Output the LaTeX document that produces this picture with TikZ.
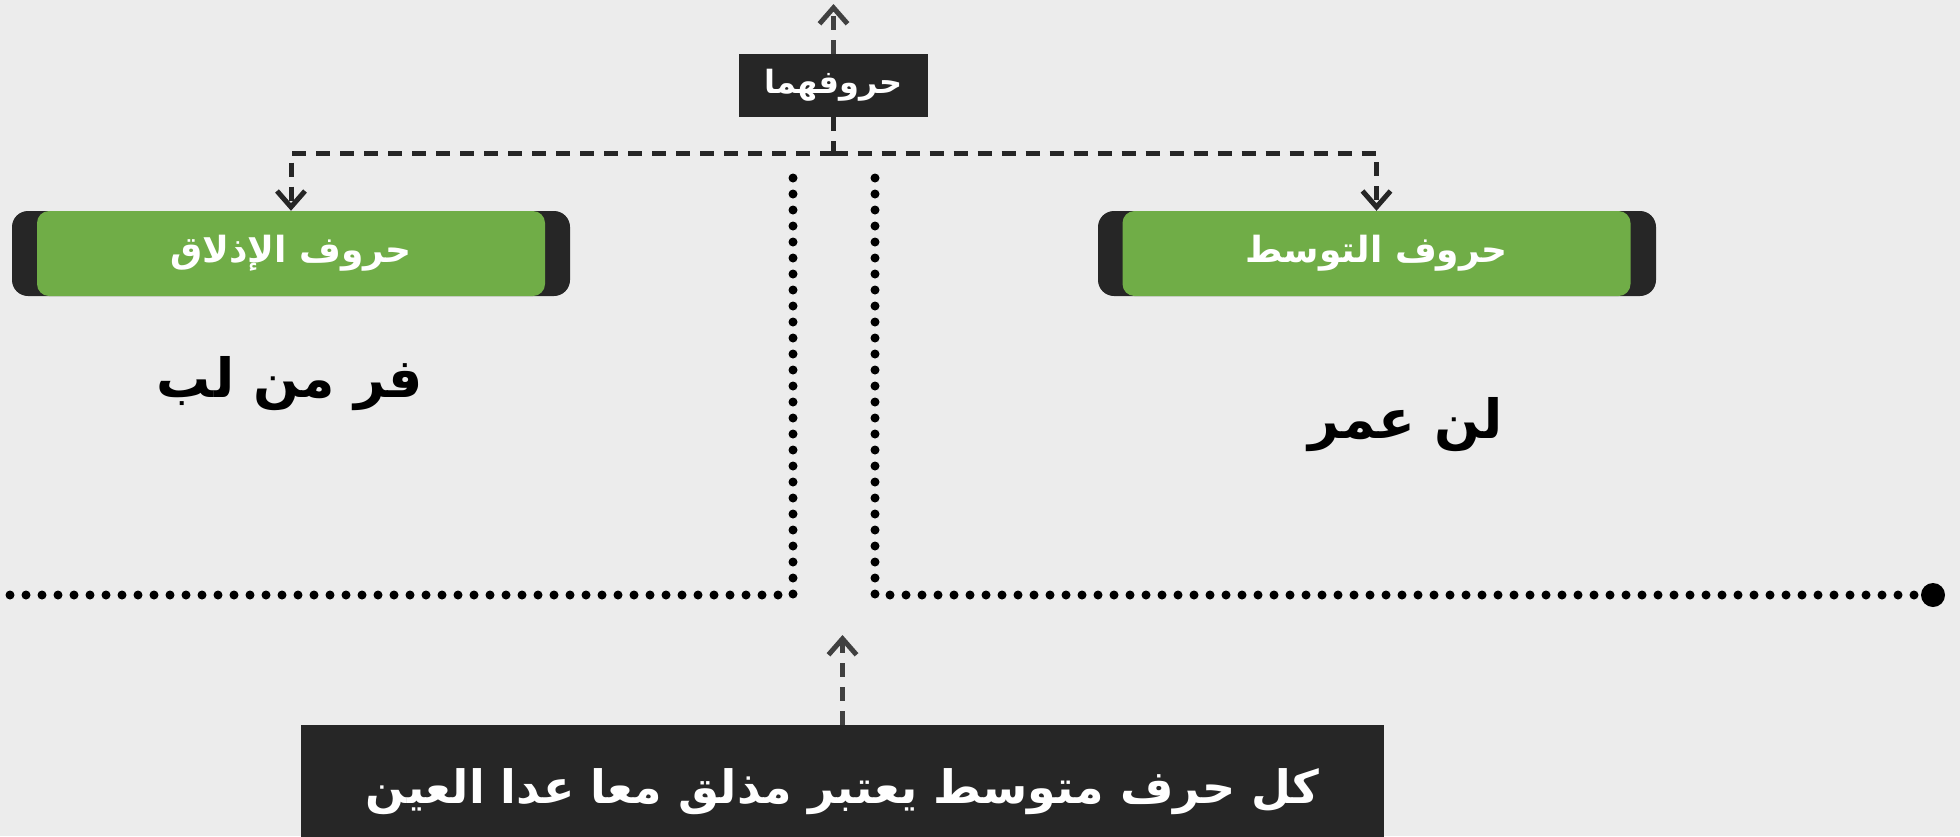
\documentclass[tikz,border=0pt]{standalone}
\usepackage{fontspec}
\newfontfamily\arabicfont[Script=Arabic]{DejaVu Sans}
\TeXXeTstate=1
\usetikzlibrary{arrows.meta}
\definecolor{bggray}{RGB}{236,236,236}
\definecolor{darkbox}{RGB}{38,38,38}
\definecolor{arrowgray}{RGB}{64,64,64}
\definecolor{leafgreen}{RGB}{112,173,71}

\begin{document}
\begin{tikzpicture}[x=1pt,y=-1pt,
  >={Straight Barb[length=16pt,width=28pt,line width=5pt]},
  backbox/.style={fill=darkbox,rounded corners=16pt,minimum width=558pt,minimum height=85pt,inner sep=0pt},
  greenbox/.style={fill=leafgreen,rounded corners=12pt,minimum width=508pt,minimum height=85pt,inner sep=0pt,text=white,font=\arabicfont\bfseries\fontsize{36}{42}\selectfont},
  darklabel/.style={fill=darkbox,text=white,inner sep=0pt},
  dashline/.style={draw=darkbox,line width=5pt,dash pattern=on 14pt off 10pt},
  dotline/.style={line width=9pt,line cap=round,dash pattern=on 0pt off 16pt},
  bigletters/.style={font=\arabicfont\bfseries\fontsize{54}{62}\selectfont}]
  \clip (0,0) rectangle (1960,836);
  \fill[bggray] (0,0) rectangle (1960,836);
  % the two groups of letters
  \node[backbox] (izlaqback) at (291,253.5) {};
  \node[greenbox] (izlaq) at (291,253.5) {\beginR حروف الإذلاق\endR};
  \node[backbox] (tawassutback) at (1377,253.5) {};
  \node[greenbox] (tawassut) at (1376.5,253.5) {\beginR حروف التوسط\endR};
  \node[bigletters] (izlaqletters) at (290,384) {\beginR فر من لب\endR};
  \node[bigletters] (tawassutletters) at (1406,425) {\beginR لن عمر\endR};
  \node[darklabel,minimum width=189pt,minimum height=63pt,font=\arabicfont\bfseries\fontsize{32}{36}\selectfont] (both) at (833.5,85.5) {\beginR حروفهما\endR};
  \node[darklabel,minimum width=1083pt,minimum height=134pt,font=\arabicfont\bfseries\fontsize{46}{52}\selectfont] (rule) at (842.5,792) {\beginR كل حرف متوسط يعتبر مذلق معا عدا العين\endR};
  \coordinate (peak) at (833.5,4);
  \coordinate (split) at (833.5,153);
  \coordinate (rise) at (842.5,635);
  \draw[dashline,draw=arrowgray,->] (both.north) -- (peak);
  \draw[dashline] (both.south) -- (split);
  \draw[dashline,->] (split) -| (izlaq.north);
  \draw[dashline,->] (split) -| (tawassut.north);
  \draw[dashline,draw=arrowgray,->] (rule.north) -- (rise);
  % dotted rails
  \coordinate (lefttop) at (793,178);
  \coordinate (leftfoot) at (793,595);
  \coordinate (leftend) at (6,595);
  \coordinate (righttop) at (875,178);
  \coordinate (rightfoot) at (875,595);
  \node[circle,fill=black,minimum size=24pt,inner sep=0pt] (enddot) at (1933,595) {};
  \draw[dotline] (lefttop) -- (leftfoot) -- (leftend);
  \draw[dotline] (righttop) -- (rightfoot) -- (enddot.west);
\end{tikzpicture}
\end{document}
